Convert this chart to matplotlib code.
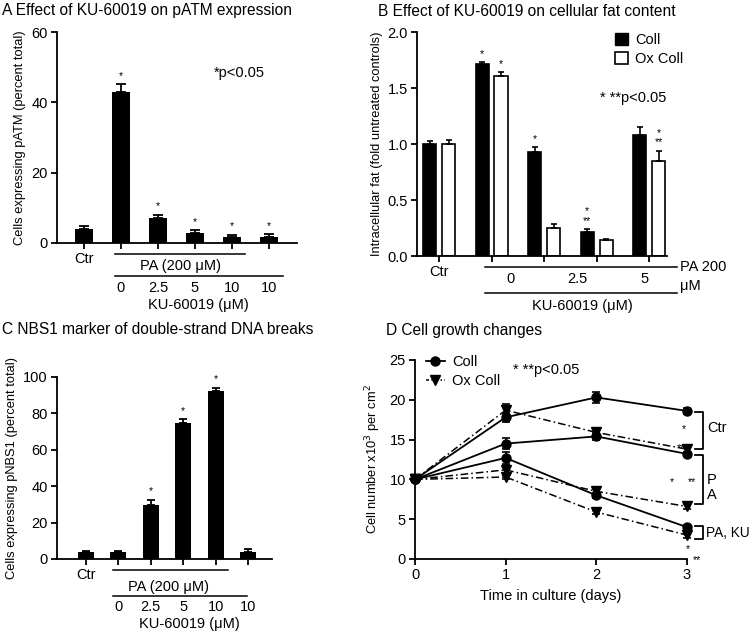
import numpy as np
import matplotlib
matplotlib.use('Agg')
import matplotlib.pyplot as plt
from matplotlib.patches import Patch
from matplotlib.lines import Line2D
from matplotlib.transforms import blended_transform_factory

plt.rcParams['font.family'] = ['Liberation Sans', 'DejaVu Sans']
plt.rcParams['axes.linewidth'] = 1.3
plt.rcParams['xtick.major.width'] = 1.3
plt.rcParams['ytick.major.width'] = 1.3

# %%
# Data

# A: pATM
a_labels = ['Ctr', '0', '2.5', '5', '10', '10']
a_vals = [4.0, 42.8, 7.1, 2.8, 1.6, 1.7]
a_err = [0.8, 2.3, 0.9, 0.8, 0.8, 0.8]
a_stars = ['', '*', '*', '*', '*', '*']

# B: fat content
b_groups = ['Ctr', 'PA', 'PA+2.5', 'PA+5', 'PA+10']
b_ku_labels = ['0', '2.5', '5']
b_coll = [1.00, 1.71, 0.93, 0.21, 1.08]
b_coll_err = [0.03, 0.02, 0.04, 0.03, 0.07]
b_ox = [1.00, 1.61, 0.25, 0.14, 0.85]
b_ox_err = [0.04, 0.03, 0.04, 0.01, 0.09]
b_coll_stars = ['', '*', '*', '*\n**', '']
b_ox_stars = ['', '*', '', '', '*\n**']

# C: pNBS1
c_labels = ['Ctr', '0', '2.5', '5', '10', '10']
c_vals = [3.8, 3.8, 29.8, 74.8, 92.2, 3.8]
c_err = [0.8, 0.8, 2.6, 2.0, 1.8, 1.8]
c_stars = ['', '', '*', '*', '*', '']

# D: cell growth
days = [0, 1, 2, 3]
coll_ctr = [10, 17.8, 20.3, 18.6]
coll_pa = [10, 14.5, 15.4, 13.2]
coll_paku = [10, 12.7, 8.0, 4.0]
ox_ctr = [10, 18.7, 15.9, 13.8]
ox_pa = [10, 11.2, 8.5, 6.6]
ox_paku = [10, 10.3, 5.9, 3.0]
coll_ctr_err = [0, 0.6, 0.7, 0.4]
coll_pa_err = [0, 0.7, 0.4, 0.3]
coll_paku_err = [0, 0.8, 0.3, 0.3]
ox_ctr_err = [0, 0.8, 0.4, 0.3]
ox_pa_err = [0, 0.6, 0.5, 0.3]
ox_paku_err = [0, 0.3, 0.3, 0.3]

# %%
W, H = 750, 638
fig = plt.figure(figsize=(W / 100, H / 100), dpi=100)

TS = 11.2   # title size
LS = 9.3    # axis label size
FS = 10.5   # tick / annotation size


def add_ax(left, top, right, bottom):
    return fig.add_axes([left / W, 1 - bottom / H, (right - left) / W, (bottom - top) / H])


def ftext(x, y, s, **kw):
    fig.text(x / W, 1 - y / H, s, **kw)


def style(ax):
    ax.spines['top'].set_visible(False)
    ax.spines['right'].set_visible(False)
    ax.tick_params(direction='out', length=4, labelsize=FS, pad=2.5)


# %%
# A Effect of KU-60019 on pATM expression
ax = add_ax(57, 32, 297, 243)
style(ax)
xa = np.arange(len(a_vals))
ax.bar(xa, a_vals, width=0.49, color='black')
ax.errorbar(xa, a_vals, yerr=[np.zeros(len(a_err)), a_err], fmt='none',
            ecolor='black', elinewidth=1.3, capsize=3.5, capthick=1.3)
for x, v, e, s in zip(xa, a_vals, a_err, a_stars):
    ax.text(x, v + e + 1.0, s, ha='center', va='bottom', fontsize=7.5)
ax.set_xlim(-0.73, 5.76)
ax.set_ylim(0, 60)
ax.set_yticks([0, 20, 40, 60])
ax.set_xticks(xa)
ax.set_xticklabels(['Ctr', '', '', '', '', ''])
ax.set_ylabel('Cells expressing pATM (percent total)', fontsize=LS, labelpad=4)
tr = blended_transform_factory(ax.transData, fig.transFigure)
ax.plot([0.84, 4.35], [1 - 254 / H] * 2, color='black', lw=1.1, transform=tr, clip_on=False)
ax.plot([0.84, 5.38], [1 - 276 / H] * 2, color='black', lw=1.1, transform=tr, clip_on=False)
ax.text(2.6, 1 - 266 / H, 'PA (200 \u03bcM)', transform=tr, ha='center', va='center', fontsize=FS)
for x, lab in zip(xa[1:], a_labels[1:]):
    ax.text(x, 1 - 288 / H, lab, transform=tr, ha='center', va='center', fontsize=FS)
ax.text(3.1, 1 - 305 / H, 'KU-60019 (\u03bcM)', transform=tr, ha='center', va='center', fontsize=FS)
ftext(214, 73, '*p<0.05', ha='left', va='center', fontsize=FS)
ftext(2, 11, 'A Effect of KU-60019 on pATM expression', fontsize=TS, va='center')

# %%
# B Effect of KU-60019 on cellular fat content
ax = add_ax(417, 32, 667, 256)
style(ax)
xb = np.arange(len(b_groups))
off, bw = 0.18, 0.25
ax.bar(xb - off, b_coll, width=bw, color='black', edgecolor='black', linewidth=1.2)
ax.bar(xb + off, b_ox, width=bw, color='white', edgecolor='black', linewidth=1.2)
ax.errorbar(xb - off, b_coll, yerr=[np.zeros(5), b_coll_err], fmt='none',
            ecolor='black', elinewidth=1.2, capsize=2.5, capthick=1.2)
ax.errorbar(xb + off, b_ox, yerr=[np.zeros(5), b_ox_err], fmt='none',
            ecolor='black', elinewidth=1.2, capsize=2.5, capthick=1.2)
for x, v, e, s in zip(xb - off, b_coll, b_coll_err, b_coll_stars):
    ax.text(x, v + e + 0.03, s, ha='center', va='bottom', fontsize=7.5, linespacing=0.9)
for x, v, e, s in zip(xb + off, b_ox, b_ox_err, b_ox_stars):
    ax.text(x, v + e + 0.03, s, ha='center', va='bottom', fontsize=7.5, linespacing=0.9)
ax.set_xlim(-0.42, 4.34)
ax.set_ylim(0, 2.0)
ax.set_yticks([0, 0.5, 1.0, 1.5, 2.0])
ax.set_yticklabels(['0.0', '0.5', '1.0', '1.5', '2.0'])
ax.set_xticks(xb)
ax.set_xticklabels(['Ctr', '', '', '', ''])
ax.set_ylabel('Intracellular fat (fold untreated controls)', fontsize=LS, labelpad=3)
tr = blended_transform_factory(ax.transData, fig.transFigure)
ax.plot([0.88, 4.53], [1 - 267 / H] * 2, color='black', lw=1.1, transform=tr, clip_on=False)
ax.plot([0.88, 4.53], [1 - 293 / H] * 2, color='black', lw=1.1, transform=tr, clip_on=False)
for xp, lab in zip([510, 577, 645], b_ku_labels):
    ftext(xp, 279, lab, ha='center', va='center', fontsize=FS)
ftext(680, 267, 'PA 200', ha='left', va='center', fontsize=FS)
ftext(680, 286, '\u03bcM', ha='left', va='center', fontsize=FS)
ftext(582, 306, 'KU-60019 (\u03bcM)', ha='center', va='center', fontsize=FS)
ftext(600, 98, '* **p<0.05', ha='left', va='center', fontsize=FS)
handles = [Patch(facecolor='black', edgecolor='black', label='Coll'),
           Patch(facecolor='white', edgecolor='black', linewidth=1.2, label='Ox Coll')]
fig.legend(handles=handles, loc='upper left', bbox_to_anchor=(615 / W, 1 - 33 / H),
           frameon=False, fontsize=FS, handlelength=0.9, handleheight=0.9,
           handletextpad=0.5, labelspacing=0.35, borderaxespad=0, borderpad=0)
ftext(378, 11, 'B Effect of KU-60019 on cellular fat content', fontsize=TS, va='center')

# %%
# C NBS1 marker of double-strand DNA breaks
ax = add_ax(57, 377, 272, 559)
style(ax)
xc = np.arange(len(c_vals))
ax.bar(xc, c_vals, width=0.49, color='black')
ax.errorbar(xc, c_vals, yerr=[np.zeros(len(c_err)), c_err], fmt='none',
            ecolor='black', elinewidth=1.3, capsize=3.2, capthick=1.3)
for x, v, e, s in zip(xc, c_vals, c_err, c_stars):
    ax.text(x, v + e + 2.0, s, ha='center', va='bottom', fontsize=7.5)
ax.set_xlim(-0.895, 5.74)
ax.set_ylim(0, 100)
ax.set_yticks([0, 20, 40, 60, 80, 100])
ax.set_xticks(xc)
ax.set_xticklabels(['Ctr', '', '', '', '', ''])
ax.set_ylabel('Cells expressing pNBS1 (percent total)', fontsize=LS, labelpad=4)
tr = blended_transform_factory(ax.transData, fig.transFigure)
ax.plot([0.83, 4.38], [1 - 570 / H] * 2, color='black', lw=1.1, transform=tr, clip_on=False)
ax.plot([0.83, 4.97], [1 - 596 / H] * 2, color='black', lw=1.1, transform=tr, clip_on=False)
ax.text(2.55, 1 - 587 / H, 'PA (200 \u03bcM)', transform=tr, ha='center', va='center', fontsize=FS)
for x, lab in zip(xc[1:], c_labels[1:]):
    ax.text(x, 1 - 607 / H, lab, transform=tr, ha='center', va='center', fontsize=FS)
ax.text(3.2, 1 - 624 / H, 'KU-60019 (\u03bcM)', transform=tr, ha='center', va='center', fontsize=FS)
ftext(2, 330, 'C NBS1 marker of double-strand DNA breaks', fontsize=TS, va='center')

# %%
# D Cell growth changes
ax = add_ax(415, 360, 687, 559)
style(ax)
ek = dict(ecolor='black', elinewidth=1.2, capsize=3, capthick=1.2, clip_on=False)
for vals, err in [(coll_ctr, coll_ctr_err), (coll_pa, coll_pa_err), (coll_paku, coll_paku_err)]:
    ax.errorbar(days, vals, yerr=err, color='black', lw=1.3, ls='-', marker='o',
                markersize=6.5, **ek)
for vals, err in [(ox_ctr, ox_ctr_err), (ox_pa, ox_pa_err), (ox_paku, ox_paku_err)]:
    ax.errorbar(days, vals, yerr=err, color='black', lw=1.1, ls=(0, (5, 2, 1, 2)), marker='v',
                markersize=6.5, **ek)
ax.set_xlim(0, 3)
ax.set_ylim(0, 25)
ax.set_xticks(days)
ax.set_yticks([0, 5, 10, 15, 20, 25])
ax.set_xlabel('Time in culture (days)', fontsize=10.5, labelpad=5)
ax.set_ylabel('Cell number x10$^3$ per cm$^2$', fontsize=LS, labelpad=5)

# brackets on the right
for y0, y1 in [(18.5, 13.8), (13.1, 6.9), (4.1, 2.5)]:
    ax.plot([3.09, 3.18, 3.18, 3.09], [y0, y0, y1, y1], color='black', lw=1.3, clip_on=False)
ax.text(3.22, 16.4, 'Ctr', ha='left', va='center', fontsize=FS)
ax.text(3.22, 9.9, 'P', ha='left', va='center', fontsize=FS)
ax.text(3.22, 8.0, 'A', ha='left', va='center', fontsize=FS)
ax.text(3.21, 3.3, 'PA, KU', ha='left', va='center', fontsize=9.8)
for x, y, s in [(2.96, 16.3, '*'), (2.93, 13.9, '**'), (2.83, 9.7, '*'), (3.05, 9.7, '**'),
                (3.01, 1.3, '*'), (3.11, -0.1, '**')]:
    ax.text(x, y, s, ha='center', va='center', fontsize=7.5, clip_on=False)

handles = [Line2D([], [], color='black', lw=1.3, ls='-', marker='o', markersize=6.5, label='Coll'),
           Line2D([], [], color='black', lw=1.1, ls=(0, (2, 1.5, 1, 1.5)), marker='v', markersize=6.5,
                  label='Ox Coll')]
fig.legend(handles=handles, loc='upper left', bbox_to_anchor=(426 / W, 1 - 355 / H),
           frameon=False, fontsize=FS, handlelength=1.3, handletextpad=0.5,
           labelspacing=0.35, borderaxespad=0, borderpad=0)
ftext(513, 370, '* **p<0.05', ha='left', va='center', fontsize=FS)
ftext(386, 330, 'D Cell growth changes', fontsize=TS, va='center')

fig.savefig('out.png', dpi=100)
